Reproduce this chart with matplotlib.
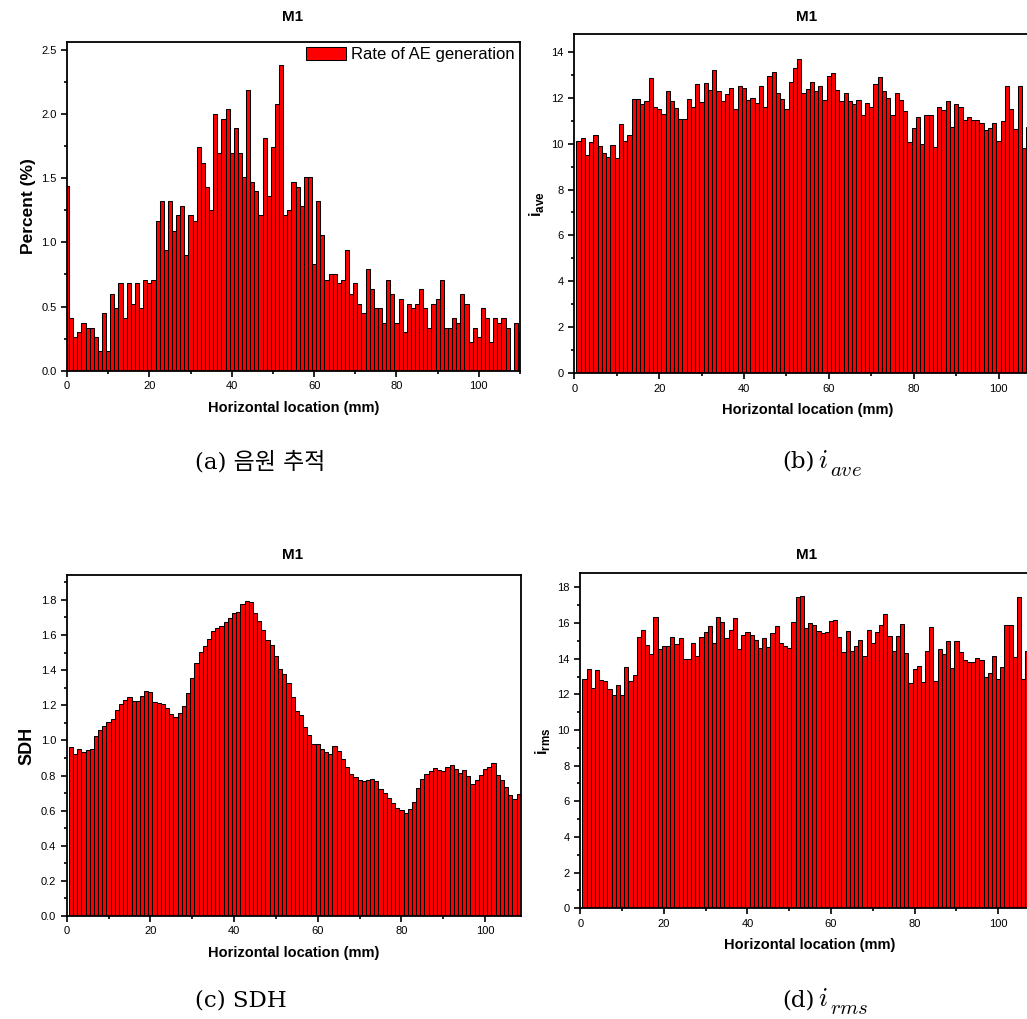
import numpy as np
import matplotlib
matplotlib.use("Agg")
import matplotlib.pyplot as plt
from matplotlib.ticker import MultipleLocator, FormatStrFormatter

plt.rcParams['font.family'] = ['Liberation Sans', 'DejaVu Sans']
plt.rcParams['mathtext.fontset'] = 'custom'
plt.rcParams['mathtext.rm'] = 'Liberation Sans'
plt.rcParams['mathtext.bf'] = 'Liberation Sans:bold'

# (a) rate of AE generation, x = 0..110 mm
rate_x = np.arange(0, 111)
rate_pct = [1.44, 0.41, 0.26, 0.30, 0.37, 0.335, 0.335, 0.26, 0.15, 0.45,
            0.15, 0.60, 0.49, 0.68, 0.41, 0.68, 0.52, 0.68, 0.49, 0.71,
            0.68, 0.71, 1.17, 1.32, 0.94, 1.32, 1.09, 1.21, 1.28, 0.90,
            1.21, 1.17, 1.74, 1.62, 1.43, 1.25, 2.00, 1.70, 1.96, 2.04,
            1.70, 1.89, 1.70, 1.51, 2.19, 1.47, 1.40, 1.21, 1.81, 1.36,
            1.74, 2.08, 2.38, 1.21, 1.25, 1.47, 1.43, 1.28, 1.51, 1.51,
            0.83, 1.32, 1.06, 0.71, 0.75, 0.75, 0.68, 0.71, 0.94, 0.60,
            0.68, 0.52, 0.45, 0.79, 0.64, 0.49, 0.49, 0.37, 0.71, 0.60,
            0.37, 0.56, 0.30, 0.52, 0.49, 0.52, 0.64, 0.49, 0.335, 0.52,
            0.56, 0.71, 0.335, 0.335, 0.41, 0.37, 0.60, 0.52, 0.22, 0.335,
            0.26, 0.49, 0.41, 0.22, 0.41, 0.37, 0.41, 0.335, 0.0, 0.37,
            0.30]

# (b) i_ave, x = 1..107 mm
ave_x = np.arange(1, 108)
i_ave = [10.13, 10.23, 9.49, 10.05, 10.39, 9.88, 9.59, 9.42, 9.92, 9.37,
         10.85, 10.10, 10.36, 11.95, 11.95, 11.74, 11.84, 12.84, 11.58, 11.49,
         11.29, 12.29, 11.84, 11.53, 11.08, 11.08, 11.92, 11.58, 12.58, 11.81,
         12.64, 12.35, 13.19, 12.30, 11.84, 12.14, 12.40, 11.50, 12.51, 12.43,
         11.90, 12.00, 11.78, 12.51, 11.58, 12.93, 13.13, 12.19, 11.93, 11.52,
         12.69, 13.30, 13.67, 12.19, 12.36, 12.69, 12.27, 12.51, 11.90, 12.94,
         13.06, 12.32, 11.87, 12.22, 11.85, 11.71, 11.88, 11.23, 11.75, 11.58,
         12.58, 12.91, 12.30, 11.98, 11.23, 12.22, 11.91, 11.43, 10.07, 10.66,
         11.14, 9.97, 11.26, 11.26, 9.84, 11.61, 11.46, 11.84, 10.71, 11.74,
         11.58, 11.03, 11.17, 11.03, 11.03, 10.90, 10.59, 10.66, 10.91, 10.10,
         11.00, 12.51, 11.52, 10.65, 12.52, 9.82, 10.74]

# (c) SDH, x = 1..108 mm
sdh_x = np.arange(1, 109)
sdh = [0.965, 0.923, 0.953, 0.932, 0.946, 0.953, 1.027, 1.059, 1.082, 1.107,
       1.120, 1.175, 1.208, 1.232, 1.245, 1.223, 1.227, 1.251, 1.280, 1.274,
       1.219, 1.211, 1.208, 1.183, 1.149, 1.135, 1.154, 1.198, 1.272, 1.354,
       1.441, 1.502, 1.540, 1.578, 1.621, 1.639, 1.654, 1.673, 1.695, 1.726,
       1.730, 1.775, 1.796, 1.787, 1.724, 1.678, 1.627, 1.572, 1.545, 1.479,
       1.407, 1.376, 1.325, 1.249, 1.170, 1.143, 1.078, 1.033, 0.978, 0.978,
       0.949, 0.932, 0.921, 0.968, 0.940, 0.892, 0.851, 0.807, 0.790, 0.775,
       0.769, 0.775, 0.778, 0.767, 0.725, 0.702, 0.674, 0.642, 0.613, 0.604,
       0.589, 0.609, 0.647, 0.729, 0.780, 0.807, 0.828, 0.841, 0.830, 0.824,
       0.847, 0.862, 0.839, 0.816, 0.833, 0.799, 0.750, 0.773, 0.803, 0.839,
       0.851, 0.870, 0.805, 0.773, 0.737, 0.687, 0.665, 0.695]

# (d) i_rms, x = 1..107 mm
rms_x = np.arange(1, 108)
i_rms = [12.86, 13.44, 12.36, 13.35, 12.79, 12.75, 12.30, 11.98, 12.50, 11.94,
         13.55, 12.73, 13.07, 15.20, 15.63, 14.79, 14.26, 16.34, 14.52, 14.69,
         14.73, 15.21, 14.82, 15.18, 13.96, 14.00, 14.88, 14.15, 15.20, 15.50,
         15.85, 14.90, 16.32, 16.07, 15.14, 15.63, 16.30, 14.56, 15.35, 15.48,
         15.31, 15.05, 14.58, 15.14, 14.67, 15.46, 15.85, 14.90, 14.69, 14.58,
         16.04, 17.44, 17.51, 15.70, 15.98, 15.91, 15.55, 15.46, 15.48, 16.11,
         16.15, 15.21, 14.36, 15.57, 14.41, 14.73, 15.03, 14.13, 15.59, 14.86,
         15.50, 15.91, 16.52, 15.27, 14.41, 15.29, 15.94, 14.34, 12.62, 13.44,
         13.61, 12.71, 14.45, 15.76, 12.75, 14.52, 14.24, 14.97, 13.46, 14.97,
         14.39, 13.94, 13.83, 13.83, 14.06, 13.91, 12.95, 13.21, 14.15, 12.84,
         13.55, 15.91, 15.87, 14.11, 17.48, 12.86, 14.41]

W, H = 1027, 1019
fig = plt.figure(figsize=(W / 100, H / 100), dpi=100)


def px_axes(l, t, r, b):
    return fig.add_axes([l / W, 1 - b / H, (r - l) / W, (b - t) / H])


def style(ax, xmax, ymax, ymaj, ymin, ylabel, ysize):
    ax.set_xlim(0, xmax)
    ax.set_ylim(0, ymax)
    ax.xaxis.set_major_locator(MultipleLocator(20))
    ax.xaxis.set_minor_locator(MultipleLocator(10))
    ax.yaxis.set_major_locator(MultipleLocator(ymaj))
    ax.yaxis.set_minor_locator(MultipleLocator(ymin))
    ax.tick_params(which='both', direction='out', top=False, right=False,
                   width=1.2, labelsize=8)
    ax.tick_params(which='major', length=4)
    ax.tick_params(which='minor', length=2.5)
    for s in ax.spines.values():
        s.set_linewidth(1.3)
    ax.set_xlabel('Horizontal location (mm)', fontsize=10.5, fontweight='bold',
                  labelpad=7)
    ax.set_ylabel(ylabel, fontsize=ysize, fontweight='bold')


bar_kw = dict(width=1.0, color='#ff0000', edgecolor='black', linewidth=0.75)

# (a)
ax_a = px_axes(67, 41.5, 520, 370.7)
ax_a.bar(rate_x, rate_pct, label='Rate of AE generation', **bar_kw)
style(ax_a, 110, 2.566, 0.5, 0.25, 'Percent (%)', 12.5)
ax_a.yaxis.set_major_formatter(FormatStrFormatter('%.1f'))
ax_a.legend(loc='upper right', frameon=False, fontsize=12, handlelength=2.4,
            handleheight=0.8, borderaxespad=0.15, borderpad=0.2,
            handletextpad=0.25)

# (b)
ax_b = px_axes(574.3, 34, 1041, 373.3)
ax_b.bar(ave_x, i_ave, **bar_kw)
style(ax_b, 110, 14.77, 2, 1, r'$\mathbf{i}_{\mathbf{ave}}$', 12)

# (c)
ax_c = px_axes(66.7, 575, 520.7, 916)
ax_c.bar(sdh_x, sdh, **bar_kw)
style(ax_c, 108.5, 1.942, 0.2, 0.1, 'SDH', 13)

# (d)
ax_d = px_axes(580.3, 573.3, 1040, 908.3)
ax_d.bar(rms_x, i_rms, **bar_kw)
style(ax_d, 110, 18.79, 2, 1, r'$\mathbf{i}_{\mathbf{rms}}$', 12)

# panel titles
for cx, cy in [(293, 17), (807, 17), (293, 555), (807, 555)]:
    fig.text(cx / W, 1 - cy / H, 'M1', ha='center', va='center',
             fontsize=11, fontweight='bold')

# captions under each panel
cap_font = ['DejaVu Serif', 'Noto Sans CJK KR']
fig.text(195 / W, 1 - 462 / H, '(a) 음원 추적', ha='left', va='center',
         fontsize=16.5, family=cap_font)
fig.text(195 / W, 1 - 1000 / H, '(c) SDH', ha='left', va='center',
         fontsize=16.5, family=cap_font)
for cy, tag, sub in [(462, '(b)', 'ave'), (1000, '(d)', 'rms')]:
    fig.text(782 / W, 1 - cy / H, tag, ha='left', va='center',
             fontsize=16.5, family=cap_font)
    fig.text(818 / W, 1 - (cy - 1) / H, '$i$', ha='left', va='center',
             fontsize=19, math_fontfamily='cm')
    fig.text(830 / W, 1 - (cy + 8) / H, '$' + sub + '$', ha='left',
             va='center', fontsize=15, math_fontfamily='cm')

fig.savefig('out.png', dpi=100)
